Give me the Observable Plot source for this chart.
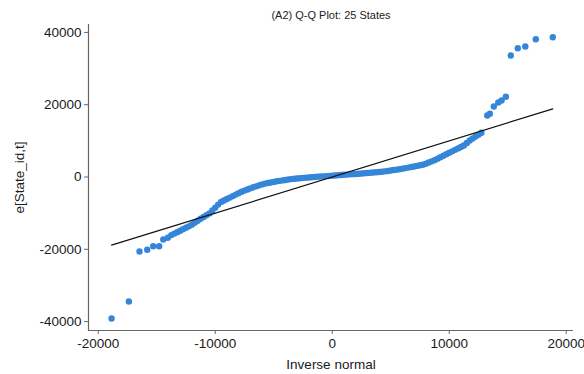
<!DOCTYPE html>
<html>
<head>
<meta charset="utf-8">
<script src="https://cdn.jsdelivr.net/npm/d3@7"></script>
<script src="https://cdn.jsdelivr.net/npm/@observablehq/plot@0.6"></script>
<style>
  html, body { margin: 0; padding: 0; background: #fff; }
  #chart svg { display: block; }
</style>
</head>
<body>
<div id="chart"></div>
<script>
const title = "(A2) Q-Q Plot: 25 States";
const xLabel = "Inverse normal";
const yLabel = "e[State_id,t]";
const xTicks = [-20000, -10000, 0, 10000, 20000];
const yTicks = [-40000, -20000, 0, 20000, 40000];
const xDomain = [-20830, 20620];
const yDomain = [-42460, 42190];

// Inverse-normal quantile (x) and sorted residual (y)
const invNormal = [
  -18860, -17380, -16470, -15810, -15300, -14790, -14440, -14050,
  -13750, -13500, -13250, -13000, -12750, -12500, -12250, -12000, -11750, -11500, -11250,
  -11000, -10750, -10500, -10250, -10000, -9750, -9500, -9250, -9000, -8750, -8500,
  -8250, -8000, -7750, -7500, -7250, -7000, -6750, -6500, -6250, -6000, -5750,
  -5500, -5250, -5000, -4750, -4500, -4250, -4000, -3750, -3500, -3250, -3000,
  -2750, -2500, -2250, -2000, -1750, -1500, -1250, -1000, -750, -500, -250,
  0, 250, 500, 750, 1000, 1250, 1500, 1750, 2000, 2250, 2500, 2750, 3000,
  3250, 3500, 3750, 4000, 4250, 4500, 4750, 5000, 5250, 5500, 5750, 6000,
  6250, 6500, 6750, 7000, 7250, 7500, 7750, 8000, 8250, 8500, 8750, 9000,
  9250, 9500, 9750, 10000, 10250, 10500, 10750, 11000, 11250, 11500, 11750,
  12000, 12250, 12500, 12750,
  13250, 13470, 13810, 14190, 14470, 14840, 15260, 15860, 16500, 17400, 18850
];
const residual = [
  -39140, -34440, -20610, -20140, -19140, -19140, -17290, -16820,
  -16070, -15660, -15260, -14850, -14450, -14050, -13650, -13180, -12630, -12080, -11540,
  -11050, -10570, -10060, -9270, -8480, -7630, -6890, -6490, -6090, -5690, -5280,
  -4870, -4460, -4080, -3760, -3440, -3130, -2850, -2580, -2310, -2040, -1820,
  -1660, -1500, -1350, -1190, -1060, -940, -820, -700, -580, -500, -410,
  -330, -240, -180, -120, -60, 0, 70, 130, 190, 250, 310,
  370, 430, 490, 550, 610, 670, 730, 790, 850, 920, 980, 1040, 1100,
  1160, 1230, 1310, 1390, 1470, 1560, 1680, 1800, 1920, 2040, 2180, 2320,
  2460, 2600, 2750, 2910, 3080, 3240, 3410, 3680, 4000, 4330, 4670, 5080,
  5480, 5890, 6290, 6700, 7100, 7510, 7910, 8310, 8710, 9400, 10090,
  10660, 11190, 11710, 12240,
  17010, 17480, 19500, 20610, 21160, 22190, 33610, 35630, 36100, 38120, 38670
];
// Reference line y = x between the extreme quantiles
const refX = [-18860, 18850];
const refY = [-18860, 18850];

const points = invNormal.map((x, i) => ({x, y: residual[i]}));
const refLine = refX.map((x, i) => ({x, y: refY[i]}));

const fmt = d => String(d);

const chart = Plot.plot({
  width: 584,
  height: 374,
  marginLeft: 88,
  marginRight: 11,
  marginTop: 24,
  marginBottom: 44,
  style: {fontFamily: "'Liberation Sans', Arial, Helvetica, sans-serif", color: "#1a1a1a", background: "#fff"},
  x: {domain: xDomain},
  y: {domain: yDomain},
  marks: [
    Plot.ruleX([xDomain[0]], {stroke: "#666", strokeWidth: 1.2}),
    Plot.ruleY([yDomain[0]], {stroke: "#666", strokeWidth: 1.2}),
    Plot.dot(points, {x: "x", y: "y", r: 3.2, fill: "#3586d8", stroke: "none"}),
    Plot.line(refLine, {x: "x", y: "y", stroke: "#111", strokeWidth: 1.2}),
    Plot.axisX({ticks: xTicks, tickFormat: fmt, tickSize: 4, tickPadding: 4, fontSize: 13.5,
      stroke: "#666", label: xLabel, labelArrow: "none", labelAnchor: "center", labelOffset: 38}),
    Plot.axisY({ticks: yTicks, tickFormat: fmt, tickSize: 4, tickPadding: 3, fontSize: 13.5,
      stroke: "#666", label: yLabel, labelArrow: "none", labelAnchor: "center", labelOffset: 74}),
    Plot.text([title], {frameAnchor: "top", dy: -9, fontSize: 11, fill: "#222", lineAnchor: "middle"})
  ]
});
document.getElementById("chart").appendChild(chart);
</script>
</body>
</html>
